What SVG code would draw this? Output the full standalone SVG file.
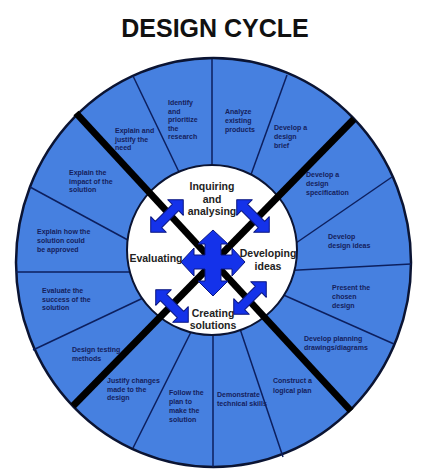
<svg xmlns="http://www.w3.org/2000/svg" width="425" height="469" viewBox="0 0 425 469">
<defs>
<style>
.title{font-family:"Liberation Sans",Arial,sans-serif;font-weight:bold;font-size:25px;fill:#111;}
.rt{font-family:"Liberation Sans",Arial,sans-serif;font-weight:bold;font-size:7px;fill:#15215c;}
.ct{font-family:"Liberation Sans",Arial,sans-serif;font-weight:bold;font-size:10.5px;fill:#222;text-anchor:middle;}
.thin{stroke:#0d1f5e;stroke-width:1.5;fill:none;}
.thick{stroke:#000;stroke-width:7;fill:none;}
.arrow{fill:#1432ea;stroke:#0a1780;stroke-width:1;stroke-linejoin:round;}
</style>
<path id="dbl" d="M-23,0 L-12,-11 L-12,-4.5 L12,-4.5 L12,-11 L23,0 L12,11 L12,4.5 L-12,4.5 L-12,11 Z"/>
</defs>
<rect width="425" height="469" fill="#fff"/>
<text class="title" x="215" y="37" text-anchor="middle">DESIGN CYCLE</text>

<g id="ring">
<ellipse cx="213.5" cy="262.5" rx="197.5" ry="204.5" fill="#4680e0" stroke="#0b1433" stroke-width="2.5"/>
</g>

<g id="connectors">
<line class="thin" x1="212" y1="59" x2="212" y2="200"/>
<line class="thin" x1="133" y1="76" x2="190" y2="195"/>
<line class="thin" x1="287" y1="75" x2="240" y2="205"/>
<line class="thin" x1="30" y1="187" x2="150" y2="252"/>
<line class="thin" x1="16" y1="272" x2="150" y2="272"/>
<line class="thin" x1="33" y1="350" x2="160" y2="290"/>
<line class="thin" x1="392" y1="177" x2="280" y2="254"/>
<line class="thin" x1="411" y1="264" x2="280" y2="271"/>
<line class="thin" x1="270" y1="289" x2="394" y2="344"/>
<line class="thin" x1="200" y1="314" x2="133" y2="448"/>
<line class="thin" x1="213" y1="300" x2="213" y2="467"/>
<line class="thin" x1="232" y1="305" x2="283" y2="457"/>
<g id="inner">
<ellipse cx="212" cy="250" rx="85" ry="85" fill="#fff" stroke="#0b1433" stroke-width="2"/>
</g>
<line class="thick" x1="76" y1="113" x2="351" y2="411"/>
<line class="thick" x1="354" y1="119" x2="73" y2="406"/>
</g>

<g id="arrows">
<path class="arrow" d="M213,230 L228,244 L221,244 L221,255 L232,255 L232,248 L245,262 L232,276 L232,269 L221,269 L221,281 L228,281 L213,296 L198,281 L205,281 L205,269 L194,269 L194,276 L181,262 L194,248 L194,255 L205,255 L205,244 L198,244 Z"/>
<use href="#dbl" class="arrow" transform="translate(167,216) rotate(-45)"/>
<use href="#dbl" class="arrow" transform="translate(253,216) rotate(45)"/>
<use href="#dbl" class="arrow" transform="translate(172,306) rotate(45)"/>
<use href="#dbl" class="arrow" transform="translate(250,298) rotate(-45)"/>
</g>

<g id="phase-inquiring"><text class="ct" x="212"><tspan x="212" y="190">Inquiring</tspan><tspan x="212" y="202.5">and</tspan><tspan x="212" y="215">analysing</tspan></text></g>
<g id="phase-developing"><text class="ct" x="268"><tspan x="268" y="257">Developing</tspan><tspan x="268" y="270">ideas</tspan></text></g>
<g id="phase-creating"><text class="ct" x="213"><tspan x="213" y="317">Creating</tspan><tspan x="213" y="329">solutions</tspan></text></g>
<g id="phase-evaluating"><text class="ct" x="156" y="262">Evaluating</text></g>

<g id="s-identify"><text class="rt"><tspan x="168" y="105">Identify</tspan><tspan x="168" y="113.5">and</tspan><tspan x="168" y="122">prioritize</tspan><tspan x="168" y="130.5">the</tspan><tspan x="168" y="139">research</tspan></text></g>
<g id="s-analyze"><text class="rt"><tspan x="225" y="114">Analyze</tspan><tspan x="225" y="123">existing</tspan><tspan x="225" y="132">products</tspan></text></g>
<g id="s-brief"><text class="rt"><tspan x="274" y="130">Develop a</tspan><tspan x="274" y="139">design</tspan><tspan x="274" y="148">brief</tspan></text></g>
<g id="s-justify-need"><text class="rt"><tspan x="115" y="133">Explain and</tspan><tspan x="115" y="141.5">justify the</tspan><tspan x="115" y="150">need</tspan></text></g>
<g id="s-impact"><text class="rt"><tspan x="69" y="175">Explain the</tspan><tspan x="69" y="183.5">impact of the</tspan><tspan x="69" y="192">solution</tspan></text></g>
<g id="s-approved"><text class="rt"><tspan x="37" y="234">Explain how the</tspan><tspan x="37" y="243">solution could</tspan><tspan x="37" y="252">be approved</tspan></text></g>
<g id="s-success"><text class="rt"><tspan x="42" y="293">Evaluate the</tspan><tspan x="42" y="301.5">success of the</tspan><tspan x="42" y="310">solution</tspan></text></g>
<g id="s-testing"><text class="rt"><tspan x="72" y="352">Design testing</tspan><tspan x="72" y="360.5">methods</tspan></text></g>
<g id="s-justify-changes"><text class="rt"><tspan x="107" y="383">Justify changes</tspan><tspan x="107" y="391.5">made to the</tspan><tspan x="107" y="400">design</tspan></text></g>
<g id="s-follow"><text class="rt"><tspan x="169" y="395">Follow the</tspan><tspan x="169" y="404">plan to</tspan><tspan x="169" y="413">make the</tspan><tspan x="169" y="422">solution</tspan></text></g>
<g id="s-demonstrate"><text class="rt"><tspan x="217" y="397">Demonstrate</tspan><tspan x="217" y="406">technical skills</tspan></text></g>
<g id="s-construct"><text class="rt"><tspan x="273" y="383">Construct a</tspan><tspan x="273" y="392.5">logical plan</tspan></text></g>
<g id="s-spec"><text class="rt"><tspan x="306" y="177">Develop a</tspan><tspan x="306" y="186">design</tspan><tspan x="306" y="195">specification</tspan></text></g>
<g id="s-ideas"><text class="rt"><tspan x="328" y="239">Develop</tspan><tspan x="328" y="248">design ideas</tspan></text></g>
<g id="s-present"><text class="rt"><tspan x="332" y="290">Present the</tspan><tspan x="332" y="299">chosen</tspan><tspan x="332" y="308">design</tspan></text></g>
<g id="s-planning"><text class="rt"><tspan x="304" y="341">Develop planning</tspan><tspan x="304" y="350">drawings/diagrams</tspan></text></g>
</svg>
